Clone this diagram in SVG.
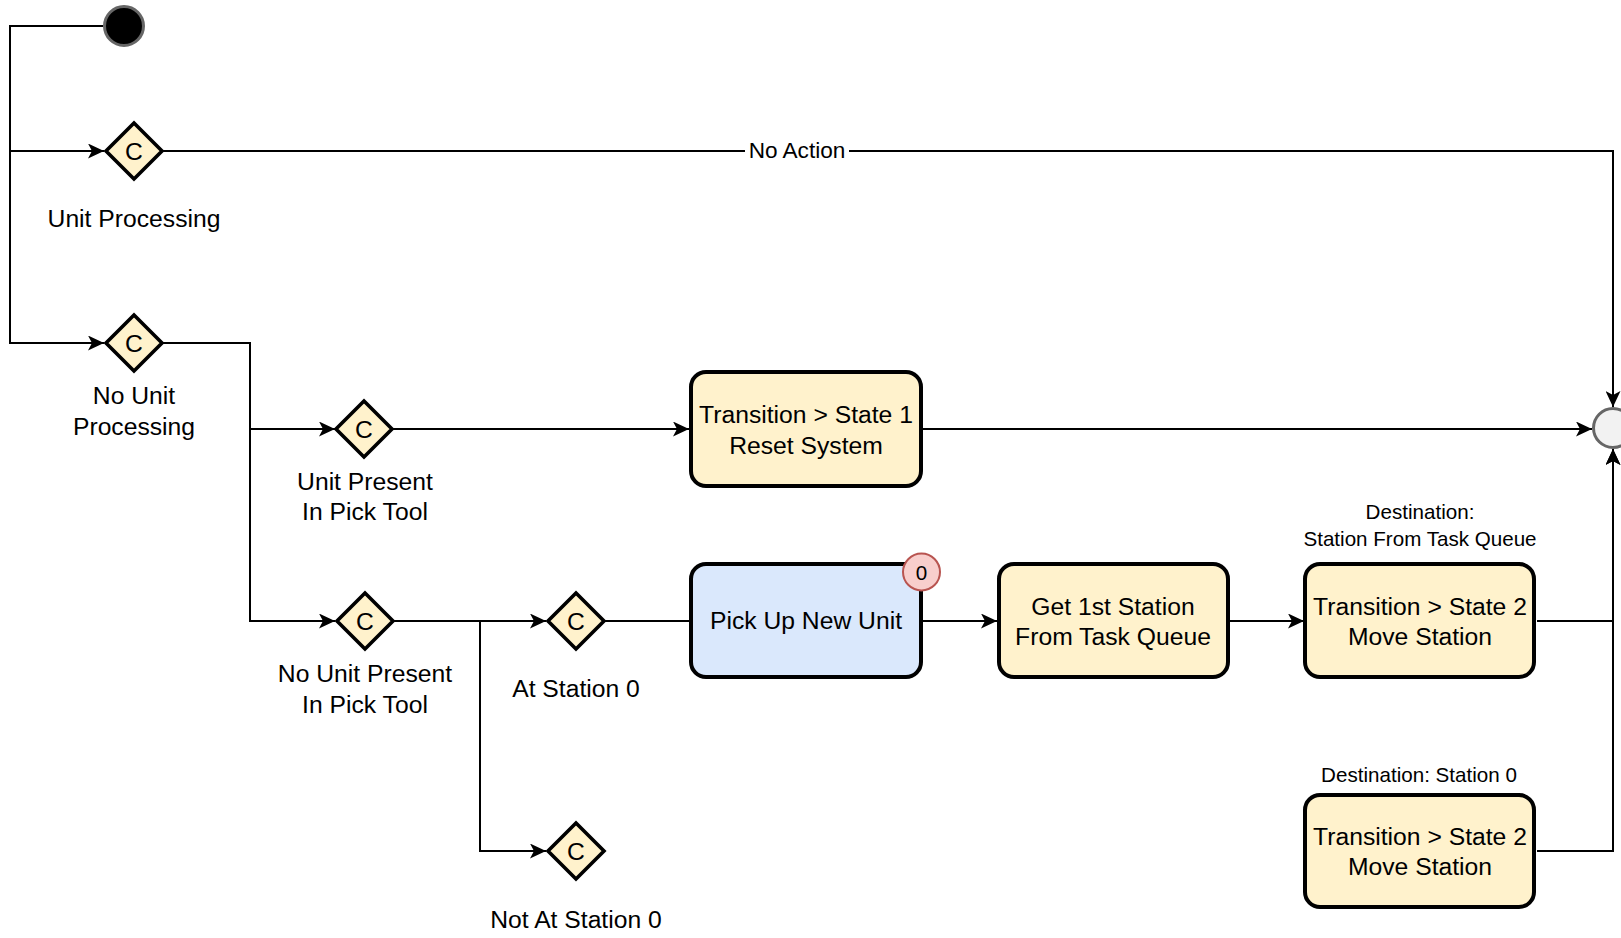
<svg xmlns="http://www.w3.org/2000/svg" width="1621" height="938" viewBox="0 0 1621 938">
  <style>
    text { font-family: "Liberation Sans", Arial, Helvetica, sans-serif; fill: #000; text-anchor: middle; }
    .lbl { font-size: 24.7px; }
    .edge-lbl { font-size: 22.6px; }
    .note { font-size: 20.6px; }
    .choice { fill: #fff2cc; stroke: #000; stroke-width: 3.6; }
    .action { fill: #fff2cc; stroke: #000; stroke-width: 4; }
    .action.blue { fill: #dae8fc; }
    .conn { fill: none; stroke: #000; stroke-width: 2; }
    .arr { marker-end: url(#arrow); }
  </style>
  <defs>
    <marker id="arrow" viewBox="0 0 16 15" markerWidth="16" markerHeight="15" refX="16" refY="7.5" orient="auto" markerUnits="userSpaceOnUse">
      <path d="M16,7.5 L0,0 L4,7.5 L0,15 Z" fill="#000"/>
    </marker>
  </defs>

  <rect width="1621" height="938" fill="#ffffff"/>

  <!-- connectors -->
  <g id="connectors">
    <path class="conn arr" d="M103,26 H10 V151 H104"/>
    <path class="conn arr" d="M10,151 V343 H104"/>
    <path class="conn arr" d="M163,151 H1613 V407"/>
    <rect x="745" y="139" width="104" height="24" fill="#ffffff"/>
    <text class="edge-lbl" x="797" y="158">No Action</text>
    <path class="conn arr" d="M163,343 H250 V429 H335"/>
    <path class="conn arr" d="M250,429 V621 H335"/>
    <path class="conn arr" d="M393,429 H689"/>
    <path class="conn arr" d="M923,429 H1592"/>
    <path class="conn arr" d="M394,621 H546"/>
    <path class="conn arr" d="M480,621 V851 H546"/>
    <path class="conn" d="M605,621 H690"/>
    <path class="conn arr" d="M923,621 H997"/>
    <path class="conn arr" d="M1229,621 H1304"/>
    <path class="conn arr" d="M1537,621 H1613 V449"/>
    <path class="conn arr" d="M1537,851 H1613 V449"/>
  </g>

  <!-- initial / final states -->
  <g id="start">
    <circle cx="124" cy="26" r="19.5" fill="#000" stroke="#666666" stroke-width="3"/>
  </g>
  <g id="end">
    <circle cx="1613" cy="428" r="19.5" fill="#f2f2f2" stroke="#666666" stroke-width="3"/>
  </g>

  <!-- choice points -->
  <g id="choice-unit-processing">
    <polygon class="choice" points="134,123 162,151 134,179 106,151"/>
    <text class="lbl" x="134" y="160">C</text>
    <text class="lbl" x="134" y="227">Unit Processing</text>
  </g>
  <g id="choice-no-unit-processing">
    <polygon class="choice" points="134,315 162,343 134,371 106,343"/>
    <text class="lbl" x="134" y="352">C</text>
    <text class="lbl" x="134" y="404">No Unit</text>
    <text class="lbl" x="134" y="435">Processing</text>
  </g>
  <g id="choice-unit-present">
    <polygon class="choice" points="364,401 392,429 364,457 336,429"/>
    <text class="lbl" x="364" y="438">C</text>
    <text class="lbl" x="365" y="490">Unit Present</text>
    <text class="lbl" x="365" y="520">In Pick Tool</text>
  </g>
  <g id="choice-no-unit-present">
    <polygon class="choice" points="365,593 393,621 365,649 337,621"/>
    <text class="lbl" x="365" y="630">C</text>
    <text class="lbl" x="365" y="682">No Unit Present</text>
    <text class="lbl" x="365" y="713">In Pick Tool</text>
  </g>
  <g id="choice-at-station-0">
    <polygon class="choice" points="576,593 604,621 576,649 548,621"/>
    <text class="lbl" x="576" y="630">C</text>
    <text class="lbl" x="576" y="697">At Station 0</text>
  </g>
  <g id="choice-not-at-station-0">
    <polygon class="choice" points="576,823 604,851 576,879 548,851"/>
    <text class="lbl" x="576" y="860">C</text>
    <text class="lbl" x="576" y="928">Not At Station 0</text>
  </g>

  <!-- actions -->
  <g id="reset-system">
    <rect class="action" x="691" y="372" width="230" height="114" rx="15"/>
    <text class="lbl" x="806" y="423">Transition &gt; State 1</text>
    <text class="lbl" x="806" y="454">Reset System</text>
  </g>
  <g id="pick-up-new-unit">
    <rect class="action blue" x="691" y="564" width="230" height="113" rx="15"/>
    <text class="lbl" x="806" y="629">Pick Up New Unit</text>
    <circle cx="921.5" cy="572" r="18.5" fill="#f8cecc" stroke="#b85450" stroke-width="2"/>
    <text class="note" x="921.5" y="579.5">0</text>
  </g>
  <g id="get-first-station">
    <rect class="action" x="999" y="564" width="229" height="113" rx="15"/>
    <text class="lbl" x="1113" y="615">Get 1st Station</text>
    <text class="lbl" x="1113" y="645">From Task Queue</text>
  </g>
  <g id="move-station-task">
    <text class="note" x="1420" y="519">Destination:</text>
    <text class="note" x="1420" y="546">Station From Task Queue</text>
    <rect class="action" x="1305" y="564" width="229" height="113" rx="15"/>
    <text class="lbl" x="1420" y="615">Transition &gt; State 2</text>
    <text class="lbl" x="1420" y="645">Move Station</text>
  </g>
  <g id="move-station-zero">
    <text class="note" x="1419" y="782">Destination: Station 0</text>
    <rect class="action" x="1305" y="795" width="229" height="112" rx="15"/>
    <text class="lbl" x="1420" y="845">Transition &gt; State 2</text>
    <text class="lbl" x="1420" y="875">Move Station</text>
  </g>
</svg>
